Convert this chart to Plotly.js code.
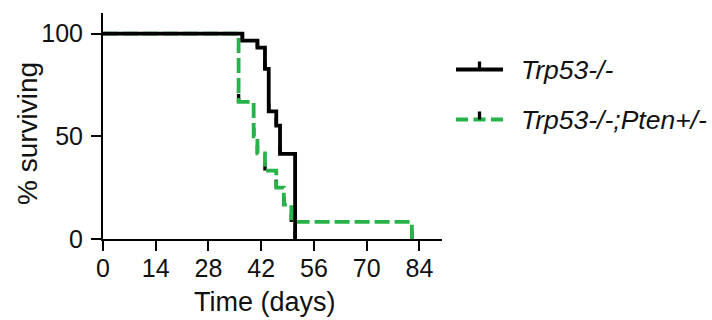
<!DOCTYPE html>
<html>
<head>
<meta charset="utf-8">
<script src="https://cdn.plot.ly/plotly-3.0.1.min.js"></script>
<style>html,body{margin:0;padding:0;background:#fff;}#chart{width:712px;height:320px;}</style>
</head>
<body>
<div id="chart"></div>
<script>
// ---- data ----
const seriesNames = ['Trp53-/-', 'Trp53-/-;Pten+/-'];
const trpDays  = [0, 37, 41, 43, 44, 46, 47, 51];
const trpSurv  = [100, 96.6, 93.1, 82.8, 62.1, 55.2, 41.4, 0];
const ptenDays = [0, 36, 40, 41, 43, 46, 48, 50, 82];
const ptenSurv = [100, 66.7, 50.0, 41.7, 33.3, 25.0, 16.7, 8.3, 0];
const xTicks = [0, 14, 28, 42, 56, 70, 84];
const yTicks = [0, 50, 100];
const xTitle = 'Time (days)';
const yTitle = '% surviving';

// ---- layout geometry ----
const W = 712, H = 320;
const M = {l: 103, r: 270, t: 13, b: 81};
const plotW = W - M.l - M.r, plotH = H - M.t - M.b;
const xRange = [0, 90], yRange = [0, 110];
const tickPx = 8;
const tickData = tickPx * (yRange[1] - yRange[0]) / plotH;
const px2x = p => (p - M.l) / plotW;
const py2y = p => 1 - (p - M.t) / plotH;

const FONT = 'Liberation Sans, Arial, sans-serif';
const GREEN = '#27b24a';
const BLACK = '#000000';
const TEXT = '#111111';

function curve(x, y, name, color, dash) {
  return {
    type: 'scatter', mode: 'lines', name: name, x: x, y: y,
    line: {shape: 'hv', color: color, width: 3.8, dash: dash},
    error_y: {type: 'data', symmetric: false,
      array: x.map((_, i) => i === 0 ? 0 : tickData),
      arrayminus: x.map(() => 0),
      color: BLACK, thickness: 3.4, width: 0},
    showlegend: false, hoverinfo: 'x+y', cliponaxis: false
  };
}

const traces = [
  curve(ptenDays, ptenSurv, seriesNames[1], GREEN, '15px,5px'),
  curve(trpDays, trpSurv, seriesNames[0], BLACK, 'solid')
];

// manual legend (line sample + upward tick + italic label)
const legendRows = [
  {py: 69.5, color: BLACK, dash: 'solid', name: seriesNames[0]},
  {py: 119.5, color: GREEN, dash: '12px,5.5px', name: seriesNames[1]}
];
const shapes = [], annotations = [];
legendRows.forEach(r => {
  shapes.push({type: 'line', xref: 'paper', yref: 'paper',
    x0: px2x(456), x1: px2x(503), y0: py2y(r.py), y1: py2y(r.py),
    line: {color: r.color, width: 3.8, dash: r.dash}});
  shapes.push({type: 'line', xref: 'paper', yref: 'paper',
    x0: px2x(479.5), x1: px2x(479.5), y0: py2y(r.py), y1: py2y(r.py - 8),
    line: {color: BLACK, width: 3.3}});
  annotations.push({xref: 'paper', yref: 'paper', x: px2x(518.5), y: py2y(r.py),
    xanchor: 'left', yanchor: 'middle', showarrow: false, text: r.name,
    font: {family: FONT, size: 26.5, color: TEXT, style: 'italic'}});
});

// axis titles, placed where the reference has them
annotations.push({xref: 'paper', yref: 'paper', x: px2x(264.5), y: py2y(302),
  xanchor: 'center', yanchor: 'middle', showarrow: false, text: xTitle,
  font: {family: FONT, size: 27, color: TEXT}});
annotations.push({xref: 'paper', yref: 'paper', x: px2x(27.5), y: py2y(133.5),
  xanchor: 'center', yanchor: 'middle', showarrow: false, text: yTitle, textangle: -90,
  font: {family: FONT, size: 28, color: TEXT}});

const axisCommon = {
  showline: true, linecolor: BLACK, linewidth: 2,
  ticks: 'outside', ticklen: 10, tickwidth: 2, tickcolor: BLACK,
  showgrid: false, zeroline: false, fixedrange: true,
  tickfont: {family: FONT, size: 25, color: TEXT}
};

const layout = {
  width: W, height: H,
  margin: {l: M.l, r: M.r, t: M.t, b: M.b, pad: 0},
  paper_bgcolor: '#fff', plot_bgcolor: '#fff',
  showlegend: false,
  font: {family: FONT, color: TEXT},
  xaxis: Object.assign({}, axisCommon, {
    range: xRange, tickvals: xTicks, ticktext: xTicks.map(String),
    ticklabelstandoff: -4
  }),
  yaxis: Object.assign({}, axisCommon, {
    range: yRange, tickvals: yTicks, ticktext: yTicks.map(String),
    ticklabelstandoff: 3
  }),
  shapes: shapes,
  annotations: annotations
};

Plotly.newPlot('chart', traces, layout, {displayModeBar: false, staticPlot: true});
</script>
</body>
</html>
